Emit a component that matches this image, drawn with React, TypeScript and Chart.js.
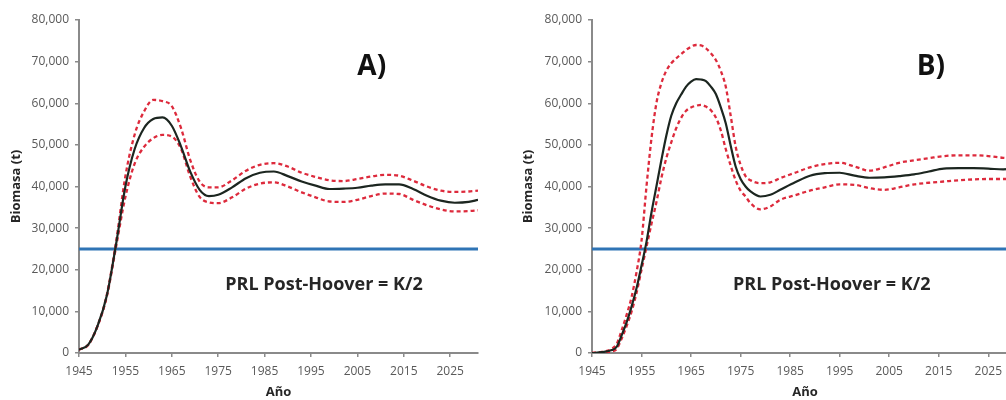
import React, { useEffect, useRef } from "react";
import { Chart, registerables } from "chart.js";

Chart.register(...registerables);

// ---------- data ----------
const xTickLabels = [1945, 1955, 1965, 1975, 1985, 1995, 2005, 2015, 2025];
const xMin = 1945;
const xMax = 2031;
const yMin = 0;
const yMax = 80000;
const yStep = 10000;
const prlLevel = 25000;

const yearsA = [1945, 1947, 1949, 1951, 1953, 1955, 1957, 1959, 1961, 1963, 1965, 1967, 1969, 1971, 1973, 1975, 1978, 1981, 1984, 1987, 1990, 1993, 1996, 1999, 2002, 2005, 2008, 2011, 2014, 2017, 2020, 2023, 2026, 2029, 2031];
const medianA = [800, 2000, 6500, 13800, 26200, 40000, 49000, 54000, 56200, 56600, 54600, 49600, 43500, 39200, 37700, 38000, 39800, 42000, 43300, 43600, 42500, 41200, 40200, 39400, 39500, 39700, 40200, 40500, 40500, 39400, 37800, 36600, 36100, 36300, 36800];
const upperA = [800, 2000, 6500, 14000, 26800, 42500, 52500, 58000, 60800, 60500, 59300, 54000, 46300, 41200, 39800, 39800, 41500, 43800, 45200, 45600, 44800, 43300, 42300, 41500, 41300, 41800, 42400, 42800, 42600, 41400, 40000, 39000, 38700, 38800, 39000];
const lowerA = [800, 2000, 6500, 13600, 25600, 37500, 45500, 49500, 51600, 52400, 52000, 49000, 42300, 37500, 36200, 36000, 37400, 39500, 40700, 41000, 40000, 38600, 37400, 36400, 36300, 36800, 37700, 38300, 38200, 36800, 35500, 34500, 34000, 34100, 34300];

const yearsB = [1945, 1947, 1949, 1950, 1951, 1952, 1953, 1954, 1955, 1956, 1957, 1958, 1959, 1960, 1961, 1962, 1963, 1964, 1965, 1966, 1967, 1968, 1969, 1970, 1971, 1972, 1973, 1974, 1975, 1976, 1977, 1979, 1981, 1983, 1986, 1989, 1992, 1995, 1998, 2001, 2004, 2007, 2010, 2013, 2016, 2019, 2022, 2025, 2028, 2031];
const medianB = [0, 200, 700, 1500, 4300, 7400, 11200, 15600, 21000, 26700, 33700, 40000, 46300, 52200, 57000, 60000, 62100, 64000, 65200, 65800, 65700, 65300, 64000, 62200, 59000, 55200, 49800, 44800, 41800, 40000, 38800, 37600, 38000, 39200, 41000, 42600, 43200, 43300, 42600, 42100, 42200, 42500, 42900, 43600, 44300, 44400, 44400, 44300, 44100, 44300];
const upperB = [0, 300, 1000, 2200, 5500, 9200, 13500, 19500, 27000, 40000, 51500, 60000, 64800, 67800, 69600, 70800, 71800, 72800, 73600, 74000, 73900, 73200, 72000, 70400, 67800, 64000, 57000, 49600, 45200, 42500, 41500, 40800, 41000, 42000, 43300, 44600, 45400, 45700, 44800, 43800, 44600, 45700, 46300, 46800, 47300, 47500, 47500, 47300, 46900, 46700];
const lowerB = [0, 100, 400, 1000, 3500, 6500, 10000, 14500, 20000, 25500, 31000, 36200, 42000, 46800, 50600, 54000, 56500, 58200, 59000, 59400, 59600, 59200, 58300, 56600, 53500, 49000, 45000, 41500, 39000, 37600, 36000, 34500, 35200, 36800, 37900, 39000, 39800, 40500, 40400, 39600, 39200, 39800, 40500, 40900, 41200, 41500, 41700, 41800, 41800, 41800];

const panelLabels = ["A)", "B)"];
const prlText = "PRL Post-Hoover = K/2";
const xTitle = "Año";
const yTitle = "Biomasa (t)";

// ---------- helpers ----------
const FONT = "'Open Sans', 'DejaVu Sans', sans-serif";
const AXIS_COLOR = "#8a8a8a";

function pts(xs: number[], ys: number[]) {
  return xs.map((x, i) => ({ x, y: ys[i] }));
}

const textPlugin = {
  id: "panelText",
  afterDatasetsDraw(chart: any, _args: any, opts: any) {
    const { ctx, scales } = chart;
    const xs = scales.x;
    const ys = scales.y;
    ctx.save();
    for (const it of opts.items || []) {
      ctx.font = it.font;
      ctx.fillStyle = it.color;
      ctx.textAlign = "center";
      ctx.textBaseline = "alphabetic";
      ctx.fillText(it.text, xs.getPixelForValue(it.x), ys.getPixelForValue(it.y));
    }
    ctx.restore();
  },
};

interface PanelCfg {
  years: number[];
  median: number[];
  upper: number[];
  lower: number[];
  yWidth: number;
  yTitlePad: number;
  padRight: number;
  label: string;
  labelX: number;
  prlX: number;
}

function makeConfig(p: PanelCfg): any {
  const red = "#dd2a3c";
  return {
    type: "line",
    data: {
      datasets: [
        {
          data: [{ x: xMin, y: prlLevel }, { x: xMax, y: prlLevel }],
          borderColor: "#2f74b5",
          borderWidth: 3,
          pointRadius: 0,
          tension: 0,
          order: 4,
        },
        {
          data: pts(p.years, p.upper),
          borderColor: red,
          borderWidth: 2.3,
          borderDash: [4, 3],
          pointRadius: 0,
          cubicInterpolationMode: "monotone",
          order: 2,
        },
        {
          data: pts(p.years, p.lower),
          borderColor: red,
          borderWidth: 2.3,
          borderDash: [4, 3],
          pointRadius: 0,
          cubicInterpolationMode: "monotone",
          order: 2,
        },
        {
          data: pts(p.years, p.median),
          borderColor: "#1c2620",
          borderWidth: 2.2,
          pointRadius: 0,
          cubicInterpolationMode: "monotone",
          order: 1,
        },
      ],
    },
    options: {
      responsive: false,
      animation: false,
      devicePixelRatio: 1,
      layout: { padding: { top: 20, right: p.padRight, bottom: 0, left: 0 } },
      plugins: {
        legend: { display: false },
        tooltip: { enabled: false },
        panelText: {
          items: [
            { text: p.label, x: p.labelX, y: 66800, font: `bold 28px ${FONT}`, color: "#111" },
            { text: prlText, x: p.prlX, y: 15200, font: `bold 18px ${FONT}`, color: "#262626" },
          ],
        },
      },
      scales: {
        x: {
          type: "linear",
          min: xMin,
          max: xMax,
          afterBuildTicks: (scale: any) => {
            scale.ticks = xTickLabels.map((v) => ({ value: v }));
          },
          afterFit: (scale: any) => {
            scale.height = 47;
          },
          ticks: {
            autoSkip: false,
            maxRotation: 0,
            padding: 7,
            color: "#595959",
            font: { family: FONT, size: 12 },
            callback: (v: any) => String(v),
          },
          grid: {
            drawOnChartArea: false,
            drawTicks: true,
            tickLength: 4,
            color: AXIS_COLOR,
            lineWidth: 1.5,
          },
          border: { display: true, color: AXIS_COLOR, width: 2 },
          title: {
            display: true,
            text: xTitle,
            color: "#262626",
            font: { family: FONT, size: 13, weight: "bold" },
            padding: { top: 0, bottom: 0 },
          },
        },
        y: {
          type: "linear",
          min: yMin,
          max: yMax,
          afterFit: (scale: any) => {
            scale.width = p.yWidth;
          },
          ticks: {
            stepSize: yStep,
            padding: 6,
            color: "#595959",
            font: { family: FONT, size: 12 },
            callback: (v: any) => Number(v).toLocaleString("en-US"),
          },
          grid: {
            drawOnChartArea: false,
            drawTicks: true,
            tickLength: 4,
            color: AXIS_COLOR,
            lineWidth: 1.5,
          },
          border: { display: true, color: AXIS_COLOR, width: 2 },
          title: {
            display: true,
            text: yTitle,
            color: "#262626",
            font: { family: FONT, size: 13, weight: "bold" },
            padding: { top: p.yTitlePad, bottom: 0 },
          },
        },
      },
    },
    plugins: [textPlugin],
  };
}

function Panel({ cfg, width }: { cfg: PanelCfg; width: number }) {
  const ref = useRef<HTMLCanvasElement | null>(null);
  useEffect(() => {
    if (!ref.current) return;
    const chart = new Chart(ref.current, makeConfig(cfg));
    return () => chart.destroy();
  }, []);
  return (
    <canvas
      ref={ref}
      width={width}
      height={400}
      style={{ display: "block", width, height: 400 }}
    />
  );
}

const panelA: PanelCfg = {
  years: yearsA,
  median: medianA,
  upper: upperA,
  lower: lowerA,
  yWidth: 79,
  yTitlePad: 8,
  padRight: 22,
  label: panelLabels[0],
  labelX: 2008.1,
  prlX: 1997.8,
};

const panelB: PanelCfg = {
  years: yearsB,
  median: medianB,
  upper: upperB,
  lower: lowerB,
  yWidth: 92,
  yTitlePad: 20,
  padRight: 22,
  label: panelLabels[1],
  labelX: 2013.4,
  prlX: 1993.4,
};

export default function App() {
  return (
    <div
      style={{
        position: "fixed",
        left: 0,
        top: 0,
        width: 1006,
        height: 400,
        overflow: "hidden",
        background: "#fff",
      }}
    >
      <div style={{ position: "absolute", left: 0, top: 0 }}>
        <Panel cfg={panelA} width={500} />
      </div>
      <div style={{ position: "absolute", left: 500, top: 0 }}>
        <Panel cfg={panelB} width={540} />
      </div>
    </div>
  );
}
